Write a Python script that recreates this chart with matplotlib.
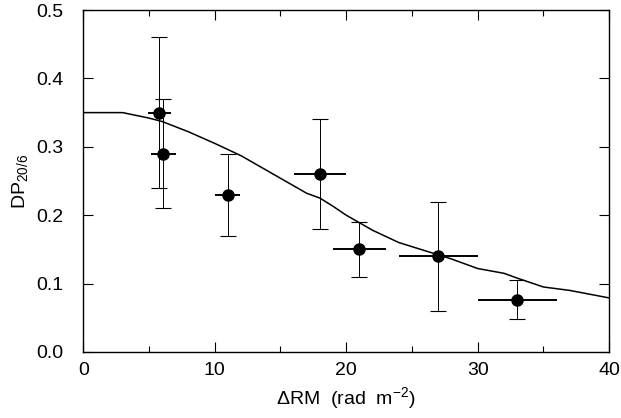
import numpy as np
import matplotlib
matplotlib.use('Agg')
import matplotlib.pyplot as plt
from matplotlib.ticker import MultipleLocator

# measured points
rm = [5.8, 6.1, 11.0, 18.0, 21.0, 27.0, 33.0]
dp = [0.35, 0.29, 0.23, 0.26, 0.15, 0.14, 0.076]
dp_hi = [0.46, 0.37, 0.29, 0.34, 0.19, 0.22, 0.105]
dp_lo = [0.24, 0.21, 0.17, 0.18, 0.11, 0.06, 0.048]
rm_err = [0.9, 0.95, 0.95, 2.0, 2.0, 3.0, 3.0]

# model curve
curve_x = [0, 3, 5, 6, 8, 10, 11, 12, 14, 16, 17, 18, 19, 20, 22, 24, 26, 27,
           28, 30, 32, 33, 35, 37, 40]
curve_y = [0.35, 0.35, 0.342, 0.337, 0.322, 0.305, 0.296, 0.287, 0.265, 0.243,
           0.232, 0.225, 0.213, 0.200, 0.178, 0.160, 0.148, 0.142, 0.136,
           0.122, 0.115, 0.108, 0.095, 0.090, 0.079]

plt.rcParams['font.family'] = ['Liberation Sans', 'DejaVu Sans']
plt.rcParams['mathtext.fontset'] = 'custom'
plt.rcParams['mathtext.rm'] = 'Liberation Sans'

fig = plt.figure(figsize=(6.21, 4.18), dpi=100)
ax = fig.add_axes([0.134, 0.158, 0.847, 0.818])

ax.plot(curve_x, curve_y, color='black', lw=1.1)

dp = np.array(dp)
yerr = [dp - np.array(dp_lo), np.array(dp_hi) - dp]
ax.errorbar(rm, dp, yerr=yerr, fmt='none', ecolor='black', elinewidth=0.7,
            capsize=6, capthick=0.8)
ax.errorbar(rm, dp, xerr=rm_err, fmt='none', ecolor='black', elinewidth=1.4,
            capsize=0)
ax.plot(rm, dp, 'o', color='black', markersize=8)

ax.set_xlim(0, 40)
ax.set_ylim(0, 0.5)
ax.xaxis.set_major_locator(MultipleLocator(10))
ax.xaxis.set_minor_locator(MultipleLocator(5))
ax.yaxis.set_major_locator(MultipleLocator(0.1))
ax.yaxis.set_major_formatter(plt.FormatStrFormatter('%.1f'))
ax.tick_params(which='both', direction='in', top=True, right=True,
               labelsize=14, width=0.8)
ax.tick_params(which='major', length=7)
ax.tick_params(which='minor', length=4)
ax.tick_params(axis='x', pad=7)
ax.tick_params(axis='y', pad=14)
for s in ax.spines.values():
    s.set_linewidth(1.0)

ax.set_xlabel('\u0394RM  (rad  m$^{\\mathrm{-2}}$)', fontsize=14, labelpad=5)
ax.set_ylabel('DP$_{\\mathrm{20/6}}$', fontsize=14, labelpad=4)

fig.savefig('out.png', dpi=100)
